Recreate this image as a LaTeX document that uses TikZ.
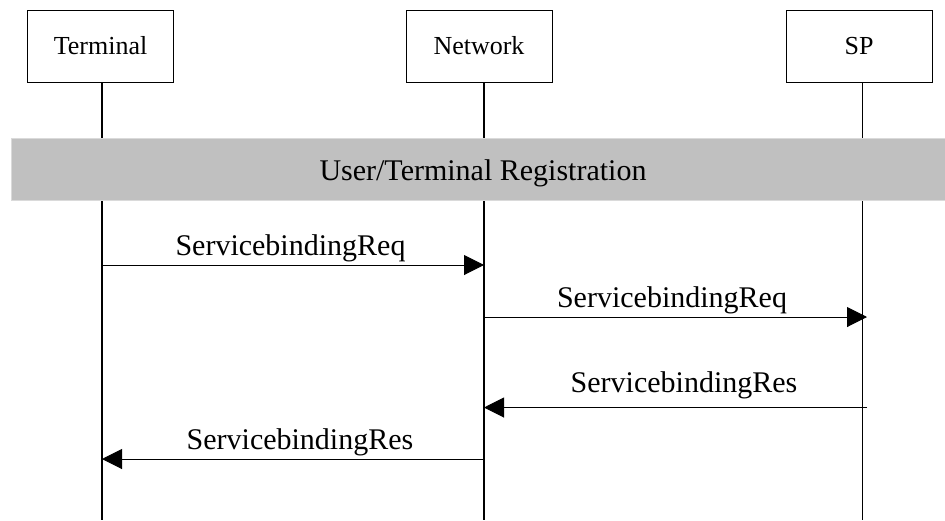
\documentclass[tikz,border=0pt]{standalone}
\usepackage{fontspec}
\setmainfont{Liberation Serif}
\usetikzlibrary{arrows.meta}
\definecolor{bandgray}{HTML}{C0C0C0}
\definecolor{bandedge}{HTML}{DADADA}
\begin{document}
\begin{tikzpicture}[x=1pt,y=-1pt,
  actor/.style={draw,line width=1pt,minimum width=146pt,minimum height=72pt,inner sep=0pt,font=\fontsize{26}{30}\selectfont},
  life/.style={line width=1.3pt},
  msg/.style={line width=1pt,-{Triangle[length=20pt,width=20pt]}},
  lbl/.style={font=\fontsize{30}{34}\selectfont,anchor=base,inner sep=0pt}]
\useasboundingbox (0,0) rectangle (945,520);
% actors
\node[actor] (term) at (100.5,46) {Terminal};
\node[actor] (net) at (479,46) {Network};
\node[actor] (sp) at (859,46) {SP};
% lifeline coordinates
\coordinate (tTop) at (102,82);
\coordinate (tBot) at (102,520);
\coordinate (nTop) at (484,82);
\coordinate (nBot) at (484,520);
\coordinate (sTop) at (862.5,82);
\coordinate (sBot) at (862.5,520);
\draw[life] (tTop) -- (tBot);
\draw[life] (nTop) -- (nBot);
\draw[life] (sTop) -- (sBot);
% band
\node[fill=bandgray,draw=bandedge,line width=0.8pt,minimum width=934pt,minimum height=62pt,inner sep=0pt,anchor=north west] (band) at (11,138) {};
\node[lbl] (regtxt) at (483,180) {User/Terminal Registration};
% message points
\coordinate (t1) at (102,265);
\coordinate (n1) at (484,265);
\coordinate (n2) at (484,317);
\coordinate (s2) at (867,317);
\coordinate (s3) at (867,407.5);
\coordinate (n3) at (484,407.5);
\coordinate (n4) at (484,459);
\coordinate (t4) at (102,459);
% messages
\draw[msg] (t1) -- (n1);
\node[lbl] (l1) at (290.5,255) {ServicebindingReq};
\draw[msg] (n2) -- (s2);
\node[lbl] (l2) at (672,307) {ServicebindingReq};
\draw[msg] (s3) -- (n3);
\node[lbl] (l3) at (684,392) {ServicebindingRes};
\draw[msg] (n4) -- (t4);
\node[lbl] (l4) at (300,449) {ServicebindingRes};
\end{tikzpicture}
\end{document}
